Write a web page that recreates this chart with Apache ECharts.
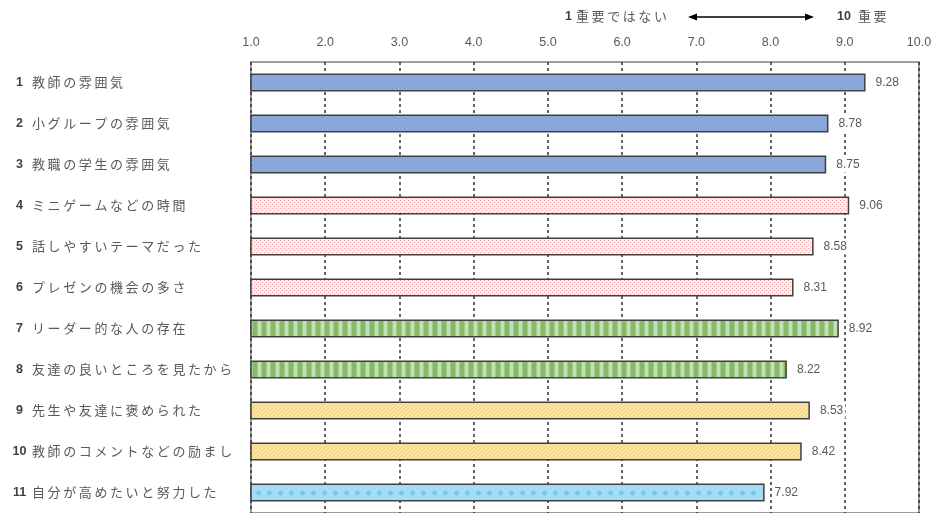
<!DOCTYPE html>
<html>
<head>
<meta charset="utf-8">
<script src="https://cdn.jsdelivr.net/npm/echarts@6/dist/echarts.min.js"></script>
<style>
  html, body { margin: 0; padding: 0; background: #fff; }
  #chart { width: 937px; height: 513px; }
</style>
</head>
<body>
<div id="chart"></div>
<script>
// 項目番号と項目名
const itemNumbers = ['1', '2', '3', '4', '5', '6', '7', '8', '9', '10', '11']
const categories = [
  '教師の雰囲気',
  '小グループの雰囲気',
  '教職の学生の雰囲気',
  'ミニゲームなどの時間',
  '話しやすいテーマだった',
  'プレゼンの機会の多さ',
  'リーダー的な人の存在',
  '友達の良いところを見たから',
  '先生や友達に褒められた',
  '教師のコメントなどの励まし',
  '自分が高めたいと努力した'
]
// 平均値
const values = [9.28, 8.78, 8.75, 9.06, 8.58, 8.31, 8.92, 8.22, 8.53, 8.42, 7.92]
// 各棒の模様グループ
const groups = ['blue', 'blue', 'blue', 'pink', 'pink', 'pink', 'green', 'green', 'yellow', 'yellow', 'cyan']
const tickLabels = ['1.0', '2.0', '3.0', '4.0', '5.0', '6.0', '7.0', '8.0', '9.0', '10.0']

const FONT = '"Noto Sans CJK JP", "Noto Sans", sans-serif'
const NUM_FONT = '"Liberation Sans Narrow", "Liberation Sans", sans-serif'

// 文字間隔を少し広げる (thin space)
const spaced = s => s.split('').join('\u2009')

// 塗りつぶし模様 (canvas)
function makePattern(kind) {
  const c = document.createElement('canvas')
  const ctx = c.getContext('2d')
  if (kind === 'blue') {
    c.width = 4; c.height = 4
    ctx.fillStyle = '#8eaadb'; ctx.fillRect(0, 0, 4, 4)
    ctx.fillStyle = '#7595cc'
    ctx.fillRect(0, 0, 1, 1); ctx.fillRect(2, 2, 1, 1)
  } else if (kind === 'pink') {
    c.width = 4; c.height = 4
    ctx.fillStyle = '#fcecec'; ctx.fillRect(0, 0, 4, 4)
    ctx.fillStyle = '#f4a9ac'
    ctx.fillRect(0, 0, 1, 1); ctx.fillRect(2, 2, 1, 1)
  } else if (kind === 'green') {
    c.width = 9; c.height = 4
    ctx.fillStyle = '#c4dfb3'; ctx.fillRect(0, 0, 9, 4)
    ctx.fillStyle = '#a2cb8b'; ctx.fillRect(0, 0, 6, 4)
    ctx.fillStyle = '#86b968'; ctx.fillRect(1, 0, 4, 4)
  } else if (kind === 'yellow') {
    c.width = 4; c.height = 4
    ctx.fillStyle = '#fbe3a6'; ctx.fillRect(0, 0, 4, 4)
    ctx.fillStyle = '#ebcd84'
    ctx.fillRect(0, 0, 1, 1); ctx.fillRect(2, 2, 1, 1); ctx.fillRect(1, 3, 1, 1); ctx.fillRect(3, 1, 1, 1)
  } else {
    c.width = 11; c.height = 18
    ctx.fillStyle = '#a3dcf3'; ctx.fillRect(0, 0, 11, 18)
    ctx.fillStyle = '#74c6eb'
    ctx.beginPath()
    ctx.moveTo(5.5, 4); ctx.lineTo(8.5, 7); ctx.lineTo(5.5, 10); ctx.lineTo(2.5, 7); ctx.closePath()
    ctx.fill()
  }
  return { image: c, repeat: 'repeat' }
}

const patterns = {}
;['blue', 'pink', 'green', 'yellow', 'cyan'].forEach(k => { patterns[k] = makePattern(k) })

const chart = echarts.init(document.getElementById('chart'))

const option = {
  animation: false,
  textStyle: { fontFamily: FONT },
  grid: {
    left: 251, right: 18, top: 62, bottom: -1,
    show: true, borderColor: '#7f7f7f', borderWidth: 1.5
  },
  xAxis: {
    type: 'value',
    position: 'top',
    min: 1, max: 10, interval: 1,
    axisLine: { show: false },
    axisTick: { show: false },
    axisLabel: {
      margin: 13,
      color: '#595959',
      fontSize: 12.5,
      fontFamily: NUM_FONT,
      formatter: v => tickLabels[Math.round(v) - 1]
    },
    splitLine: {
      show: true,
      lineStyle: { color: '#333', type: [3, 3], width: 1.5 }
    }
  },
  yAxis: {
    type: 'category',
    inverse: true,
    data: categories,
    axisLine: { show: false },
    axisTick: { show: false },
    axisLabel: {
      align: 'left',
      margin: 239,
      formatter: (v, i) => '{n|' + itemNumbers[i] + '}{t|' + spaced(v) + '}',
      rich: {
        n: {
          fontFamily: NUM_FONT, fontWeight: 'bold', fontSize: 12.5,
          color: '#404040', width: 15, align: 'right', padding: [0, 5, 0, 0]
        },
        t: { fontFamily: FONT, fontSize: 13, color: '#595959' }
      }
    }
  },
  series: [{
    type: 'bar',
    barWidth: 18,
    data: values.map((v, i) => ({
      value: v,
      itemStyle: { color: patterns[groups[i]] }
    })),
    itemStyle: { borderColor: '#404040', borderWidth: 1.5 },
    label: {
      show: true,
      position: 'right',
      distance: 8,
      color: '#595959',
      fontSize: 12,
      fontFamily: NUM_FONT,
      backgroundColor: '#fff',
      padding: [2, 2],
      formatter: p => p.value.toFixed(2)
    }
  }],
  graphic: [
    {
      type: 'text', left: 565, top: 10,
      style: {
        text: '{n|1}{t|' + spaced('重要ではない') + '}',
        rich: {
          n: { fontFamily: NUM_FONT, fontWeight: 'bold', fontSize: 12.5, fill: '#404040', padding: [0, 4, 0, 0] },
          t: { fontFamily: FONT, fontSize: 13, fill: '#595959' }
        }
      }
    },
    {
      type: 'line',
      shape: { x1: 694, y1: 17, x2: 808, y2: 17 },
      style: { stroke: '#000', lineWidth: 1.5 }
    },
    {
      type: 'polygon',
      shape: { points: [[688, 17], [697, 13.5], [697, 20.5]] },
      style: { fill: '#000' }
    },
    {
      type: 'polygon',
      shape: { points: [[814, 17], [805, 13.5], [805, 20.5]] },
      style: { fill: '#000' }
    },
    {
      type: 'text', left: 837, top: 10,
      style: {
        text: '{n|10}{t|' + spaced('重要') + '}',
        rich: {
          n: { fontFamily: NUM_FONT, fontWeight: 'bold', fontSize: 12.5, fill: '#404040', padding: [0, 7, 0, 0] },
          t: { fontFamily: FONT, fontSize: 13, fill: '#595959' }
        }
      }
    }
  ]
}

chart.setOption(option)
</script>
</body>
</html>
